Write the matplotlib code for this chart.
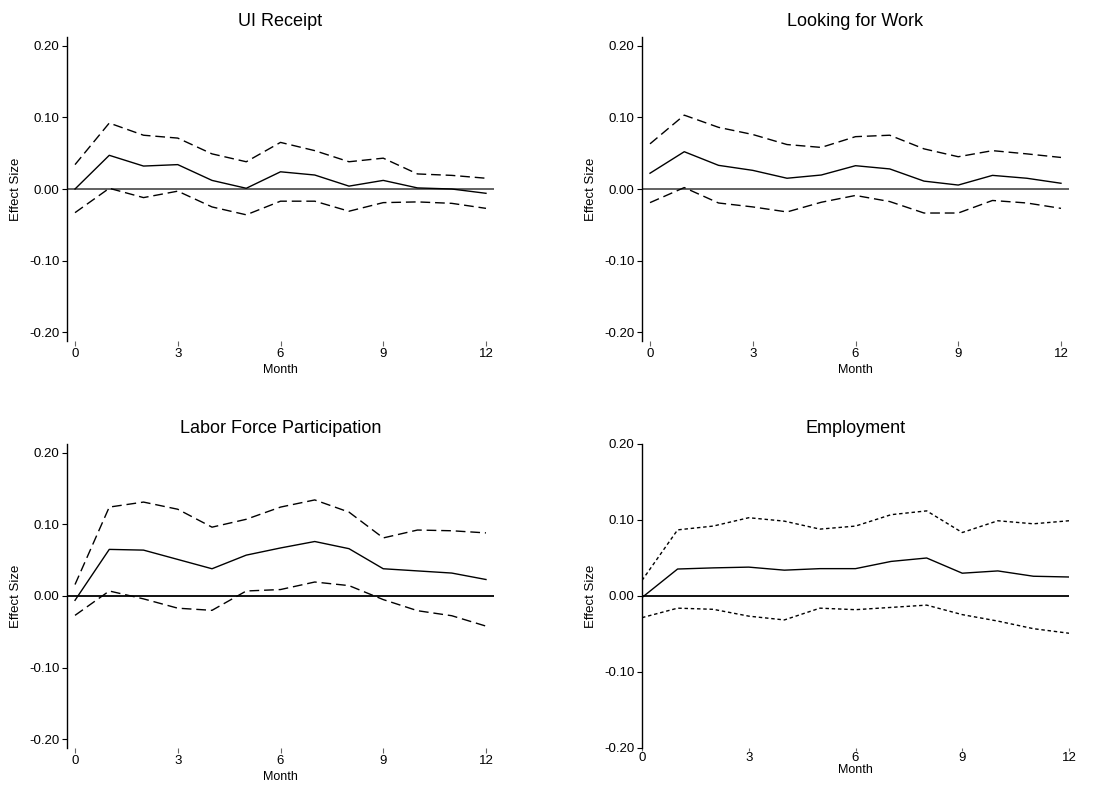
import matplotlib.pyplot as plt

plt.rcParams['font.family'] = ['Liberation Sans', 'DejaVu Sans']

months = list(range(13))

# UI receipt
ui_est = [0.0, 0.047, 0.032, 0.034, 0.012, 0.001, 0.024, 0.0195, 0.004, 0.012, 0.0015, 0.0, -0.006]
ui_hi = [0.034, 0.092, 0.075, 0.071, 0.049, 0.038, 0.065, 0.0535, 0.038, 0.043, 0.021, 0.019, 0.015]
ui_lo = [-0.033, 0.001, -0.012, -0.003, -0.025, -0.036, -0.017, -0.017, -0.031, -0.019, -0.018, -0.020, -0.027]

# looking for work
lw_est = [0.022, 0.052, 0.033, 0.026, 0.015, 0.0195, 0.0325, 0.028, 0.011, 0.0055, 0.019, 0.015, 0.008]
lw_hi = [0.063, 0.103, 0.086, 0.076, 0.062, 0.058, 0.073, 0.075, 0.056, 0.045, 0.0535, 0.049, 0.044]
lw_lo = [-0.019, 0.002, -0.0195, -0.025, -0.032, -0.0185, -0.009, -0.0175, -0.0335, -0.0335, -0.016, -0.0195, -0.027]

# labor force participation
lf_est = [-0.006, 0.065, 0.064, 0.051, 0.038, 0.057, 0.067, 0.076, 0.066, 0.038, 0.035, 0.032, 0.023]
lf_hi = [0.016, 0.124, 0.131, 0.121, 0.096, 0.107, 0.124, 0.134, 0.117, 0.081, 0.092, 0.091, 0.088]
lf_lo = [-0.027, 0.007, -0.004, -0.017, -0.020, 0.007, 0.009, 0.0195, 0.0145, -0.005, -0.0205, -0.0275, -0.042]

# employment
em_est = [-0.002, 0.0355, 0.037, 0.038, 0.034, 0.036, 0.036, 0.0455, 0.050, 0.030, 0.033, 0.026, 0.025]
em_hi = [0.0205, 0.087, 0.092, 0.103, 0.0985, 0.088, 0.092, 0.107, 0.112, 0.0835, 0.099, 0.095, 0.099]
em_lo = [-0.0285, -0.016, -0.0175, -0.0265, -0.0315, -0.016, -0.018, -0.015, -0.012, -0.0245, -0.033, -0.043, -0.049]

yticks = [-0.2, -0.1, 0.0, 0.1, 0.2]
ytick_labels = ["-0.20", "-0.10", "0.00", "0.10", "0.20"]
xticks = [0, 3, 6, 9, 12]

fig = plt.figure(figsize=(11.1, 7.85), dpi=100)

W = 427 / 1110
H = 304 / 785


def panel(rect, title, est, hi, lo, ci_dash, zero_col, xlim, ylim,
          xtick_len, xtick_pad, xlab_y):
    ax = fig.add_axes(rect)
    ax.axhline(0, color=zero_col, lw=1.3, zorder=1)
    ax.plot(months, est, color='black', lw=1.0)
    ax.plot(months, hi, color='black', lw=1.0, dashes=ci_dash)
    ax.plot(months, lo, color='black', lw=1.0, dashes=ci_dash)
    ax.set_xlim(*xlim)
    ax.set_ylim(*ylim)
    for s in ['top', 'right', 'bottom']:
        ax.spines[s].set_visible(False)
    ax.spines['left'].set_linewidth(1.0)
    ax.set_yticks(yticks)
    ax.set_yticklabels(ytick_labels)
    ax.set_xticks(xticks)
    ax.tick_params(axis='y', length=3.5, width=0.8, pad=2, labelsize=9.5)
    ax.tick_params(axis='x', length=xtick_len, width=0.8, pad=xtick_pad, labelsize=9.5,
                   colors='#666666', labelcolor='black')
    ax.set_title(title, fontsize=13, pad=8)
    ax.set_xlabel("Month", fontsize=9)
    ax.set_ylabel("Effect Size", fontsize=9.5)
    ax.xaxis.set_label_coords(0.5, xlab_y)
    ax.yaxis.set_label_coords(-0.105, 0.5)
    return ax


pad = 0.234
panel([67 / 1110, 1 - 341 / 785, W, H], "UI Receipt", ui_est, ui_hi, ui_lo,
      (7, 3.5), '#555555', (-pad, 12 + pad), (-0.212, 0.212), 3.5, 1.5, -0.075)
panel([642 / 1110, 1 - 341 / 785, W, H], "Looking for Work", lw_est, lw_hi, lw_lo,
      (7, 3.5), '#555555', (-pad, 12 + pad), (-0.212, 0.212), 3.5, 1.5, -0.075)
panel([67 / 1110, 1 - 748 / 785, W, H], "Labor Force Participation", lf_est, lf_hi, lf_lo,
      (7, 3.5), 'black', (-pad, 12 + pad), (-0.212, 0.212), 3.5, 1.5, -0.075)
panel([642 / 1110, 1 - 748 / 785, W, H], "Employment", em_est, em_hi, em_lo,
      (2.5, 2), 'black', (0, 12), (-0.2, 0.2), 2.5, 0.3, -0.052)

fig.savefig("out.png", dpi=100)
